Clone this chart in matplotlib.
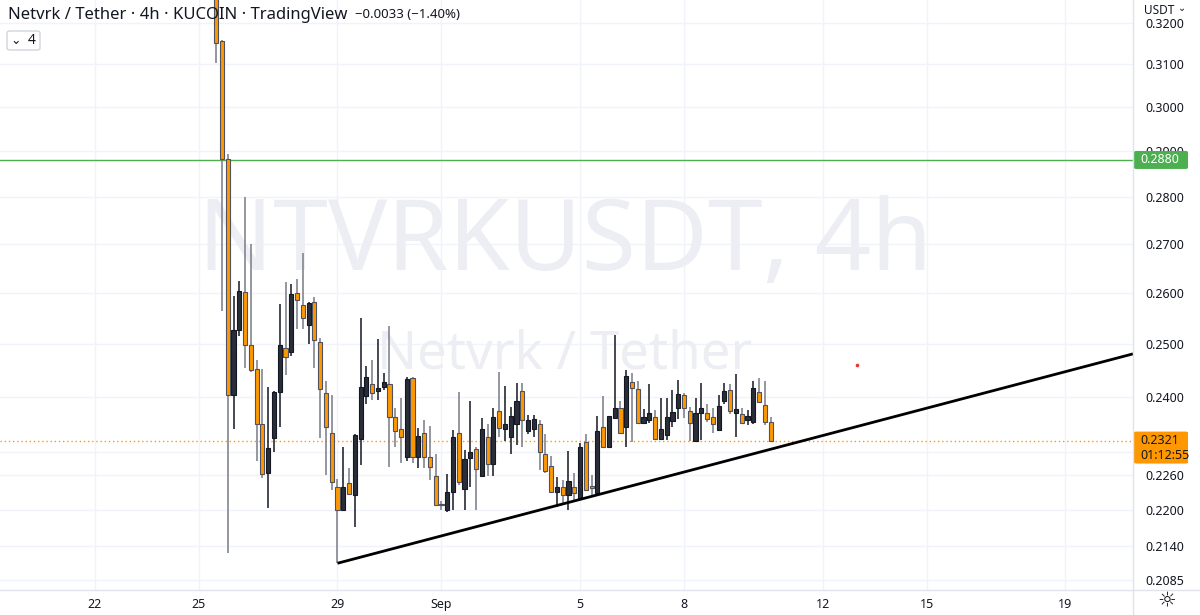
import matplotlib
matplotlib.use('Agg')
import matplotlib.pyplot as plt
import matplotlib.dates as mdates
from matplotlib.patches import FancyBboxPatch
from matplotlib.lines import Line2D
from matplotlib.ticker import FixedLocator, NullLocator, NullFormatter
import numpy as np
import pandas as pd

plt.rcParams['font.family'] = ['Noto Sans', 'DejaVu Sans']

# ---------------- data ----------------
title_main = "Netvrk / Tether · 4h · KUCOIN · TradingView"
change_text = "−0.0033 (−1.40%)"
interval_badge = "4"
watermark_main = "NTVRKUSDT, 4h"
watermark_sub = "Netvrk / Tether"
currency = "USDT"

start_time = "2021-08-25 12:00"   # first visible 4h candle
opens = [0.3400, 0.3156, 0.2882, 0.2404, 0.2526, 0.2601, 0.2498, 0.2452, 0.2351, 0.2263,
         0.2326, 0.2410, 0.2492, 0.2485, 0.2599, 0.2576, 0.2536, 0.2581, 0.2503, 0.2407,
         0.2335, 0.2240, 0.2201, 0.2247, 0.2226, 0.2324, 0.2401, 0.2424, 0.2411, 0.2419,
         0.2424, 0.2363, 0.2341, 0.2291, 0.2435, 0.2291, 0.2335, 0.2291, 0.2259, 0.2210,
         0.2200, 0.2231, 0.2334, 0.2236, 0.2290, 0.2306, 0.2259, 0.2328, 0.2280, 0.2374,
         0.2342, 0.2327, 0.2351, 0.2411, 0.2339, 0.2341, 0.2350, 0.2297, 0.2276, 0.2231,
         0.2240, 0.2226, 0.2239, 0.2219, 0.2319, 0.2241, 0.2229, 0.2345, 0.2310, 0.2361,
         0.2380, 0.2346, 0.2428, 0.2414, 0.2353, 0.2358, 0.2364, 0.2323, 0.2331, 0.2357,
         0.2380, 0.2404, 0.2374, 0.2321, 0.2370, 0.2370, 0.2364, 0.2340, 0.2393, 0.2413,
         0.2370, 0.2369, 0.2358, 0.2354, 0.2410, 0.2385, 0.2354]
highs = [0.3420, 0.3158, 0.2893, 0.2594, 0.2624, 0.2800, 0.2700, 0.2469, 0.2453, 0.2419,
         0.2411, 0.2578, 0.2621, 0.2618, 0.2628, 0.2682, 0.2582, 0.2592, 0.2512, 0.2430,
         0.2404, 0.2253, 0.2309, 0.2272, 0.2333, 0.2550, 0.2458, 0.2469, 0.2509, 0.2445,
         0.2534, 0.2379, 0.2398, 0.2438, 0.2438, 0.2343, 0.2358, 0.2348, 0.2297, 0.2215,
         0.2262, 0.2340, 0.2410, 0.2304, 0.2393, 0.2309, 0.2362, 0.2351, 0.2379, 0.2447,
         0.2421, 0.2382, 0.2426, 0.2426, 0.2367, 0.2367, 0.2358, 0.2333, 0.2294, 0.2256,
         0.2252, 0.2302, 0.2263, 0.2317, 0.2333, 0.2260, 0.2365, 0.2402, 0.2365, 0.2517,
         0.2393, 0.2450, 0.2445, 0.2429, 0.2378, 0.2424, 0.2376, 0.2398, 0.2398, 0.2413,
         0.2432, 0.2408, 0.2381, 0.2398, 0.2426, 0.2387, 0.2379, 0.2404, 0.2426, 0.2424,
         0.2443, 0.2379, 0.2376, 0.2430, 0.2435, 0.2430, 0.2363]
lows = [0.3103, 0.2564, 0.2129, 0.2342, 0.2515, 0.2455, 0.2447, 0.2285, 0.2255, 0.2204,
        0.2300, 0.2345, 0.2441, 0.2476, 0.2529, 0.2529, 0.2500, 0.2454, 0.2326, 0.2260,
        0.2234, 0.2112, 0.2200, 0.2228, 0.2172, 0.2277, 0.2387, 0.2395, 0.2395, 0.2413,
        0.2274, 0.2310, 0.2282, 0.2284, 0.2281, 0.2272, 0.2272, 0.2252, 0.2208, 0.2200,
        0.2197, 0.2200, 0.2243, 0.2200, 0.2240, 0.2200, 0.2259, 0.2259, 0.2259, 0.2328,
        0.2321, 0.2298, 0.2313, 0.2310, 0.2333, 0.2328, 0.2269, 0.2264, 0.2231, 0.2206,
        0.2210, 0.2200, 0.2216, 0.2219, 0.2234, 0.2223, 0.2229, 0.2310, 0.2310, 0.2361,
        0.2334, 0.2310, 0.2318, 0.2351, 0.2351, 0.2353, 0.2322, 0.2322, 0.2322, 0.2346,
        0.2359, 0.2361, 0.2321, 0.2321, 0.2322, 0.2354, 0.2335, 0.2340, 0.2387, 0.2369,
        0.2327, 0.2351, 0.2349, 0.2351, 0.2391, 0.2349, 0.2318]
closes = [0.3151, 0.2882, 0.2404, 0.2526, 0.2604, 0.2498, 0.2451, 0.2351, 0.2262, 0.2308,
          0.2410, 0.2498, 0.2475, 0.2597, 0.2585, 0.2550, 0.2579, 0.2507, 0.2415, 0.2346,
          0.2249, 0.2201, 0.2240, 0.2228, 0.2331, 0.2419, 0.2438, 0.2407, 0.2417, 0.2427,
          0.2363, 0.2338, 0.2327, 0.2434, 0.2291, 0.2330, 0.2292, 0.2275, 0.2208, 0.2208,
          0.2231, 0.2327, 0.2249, 0.2288, 0.2300, 0.2271, 0.2342, 0.2280, 0.2363, 0.2343,
          0.2351, 0.2365, 0.2393, 0.2358, 0.2358, 0.2359, 0.2300, 0.2268, 0.2231, 0.2240,
          0.2226, 0.2250, 0.2229, 0.2310, 0.2234, 0.2237, 0.2339, 0.2310, 0.2365, 0.2380,
          0.2335, 0.2439, 0.2416, 0.2353, 0.2363, 0.2370, 0.2323, 0.2341, 0.2363, 0.2372,
          0.2405, 0.2379, 0.2352, 0.2371, 0.2379, 0.2359, 0.2351, 0.2383, 0.2411, 0.2375,
          0.2378, 0.2353, 0.2365, 0.2417, 0.2391, 0.2354, 0.2321]

price_ticks = [0.3200, 0.3100, 0.3000, 0.2900, 0.2800, 0.2700, 0.2600, 0.2500,
               0.2400, 0.2260, 0.2200, 0.2140, 0.2085]
date_ticks = ["2021-08-22", "2021-08-25", "2021-08-29", "2021-09-01", "2021-09-05",
              "2021-09-08", "2021-09-12", "2021-09-15", "2021-09-19"]
date_labels = ["22", "25", "29", "Sep", "5", "8", "12", "15", "19"]

level_price = 0.2880
last_price = 0.2321
countdown = "01:12:55"

trend_times = ["2021-08-29 00:00", "2021-09-20 23:00"]
trend_prices = [0.2112, 0.2481]

dot_time = "2021-09-12 23:45"
dot_price = 0.2460

x_range = ["2021-08-19 06:15", "2021-09-20 23:00"]
y_range = [0.2069, 0.3257]

# ---------------- colours ----------------
UP_BODY, UP_EDGE, UP_WICK = '#2a2e39', '#131722', '#131722'
DN_BODY, DN_EDGE, DN_WICK = '#ff9800', '#4f525c', '#787b86'
GRID = '#f0f3fa'
TEXT = '#131722'
SEP = '#e0e3eb'
WATERMARK = '#eceef3'

W, H = 1200, 615
fig = plt.figure(figsize=(W / 100, H / 100), dpi=100)
fig.patch.set_facecolor('white')
ax_right_px, ax_bottom_px = 1133, 590
ax = fig.add_axes([0, (H - ax_bottom_px) / H, ax_right_px / W, ax_bottom_px / H])
ax.set_facecolor('white')

t = mdates.date2num(pd.date_range(start_time, periods=len(opens), freq='4h'))
o, h, l, c = (np.array(a) for a in (opens, highs, lows, closes))
up = c > o
bw = 0.72 / 6.0
for mask, body, edge, wick in [(up, UP_BODY, UP_EDGE, UP_WICK), (~up, DN_BODY, DN_EDGE, DN_WICK)]:
    ax.vlines(t[mask], l[mask], h[mask], color=wick, lw=1.1, zorder=3)
    hgt = np.maximum(np.abs(c - o)[mask], 0.00005)
    ax.bar(t[mask], hgt, bottom=np.minimum(o, c)[mask], width=bw, color=body,
           edgecolor=edge, lw=0.8, zorder=4)

ax.set_yscale('log')
ax.set_ylim(*y_range)
ax.set_xlim(*mdates.date2num(pd.to_datetime(x_range)))

# grid
xt = mdates.date2num(pd.to_datetime(date_ticks))
for xv in xt:
    ax.axvline(xv, color=GRID, lw=1, zorder=0)
for yv in price_ticks + [0.2300]:
    ax.axhline(yv, color=GRID, lw=1, zorder=0)

# watermarks
ax.text(0.4987, 0.585, watermark_main, transform=ax.transAxes, ha='center', va='center',
        fontsize=71, color=WATERMARK, zorder=1)
ax.text(0.4987, 0.398, watermark_sub, transform=ax.transAxes, ha='center', va='center',
        fontsize=38, color=WATERMARK, zorder=1)

# level line & last price line
ax.axhline(level_price, color='#4caf50', lw=1, zorder=2)
ax.axhline(last_price, color='#ff9800', lw=1, ls=(0, (1, 2)), zorder=2)

# trendline
ax.plot(mdates.date2num(pd.to_datetime(trend_times)), trend_prices, color='black', lw=2,
        zorder=5, solid_capstyle='butt')
ax.plot(mdates.date2num(pd.to_datetime([dot_time]))[0], dot_price, 'o', color='#e53935',
        ms=1.6, zorder=5)

# axes formatting
for s in ax.spines.values():
    s.set_visible(False)
ax.yaxis.set_major_locator(FixedLocator(price_ticks))
ax.yaxis.set_minor_locator(NullLocator())
ax.yaxis.set_minor_formatter(NullFormatter())
ax.set_yticklabels([f"{p:.4f}" for p in price_ticks])
ax.yaxis.tick_right()
ax.tick_params(axis='y', length=0, pad=9, labelsize=9, labelcolor=TEXT)
ax.set_xticks(xt)
ax.set_xticklabels(date_labels)
ax.tick_params(axis='x', length=0, pad=6, labelsize=9, labelcolor=TEXT)
for lbl in ax.get_xticklabels():
    if lbl.get_text() == "Sep":
        lbl.set_fontweight('bold')

# separators
fig.add_artist(Line2D([ax_right_px / W] * 2, [0, 1], color=SEP, lw=1))
fig.add_artist(Line2D([0, 1], [(H - ax_bottom_px) / H] * 2, color=SEP, lw=1))

def fy(px):
    return 1 - px / H

def fx(px):
    return px / W

# header
fig.text(fx(8), fy(15), title_main, fontsize=12, color=TEXT, va='center', ha='left')
fig.text(fx(355), fy(15), change_text, fontsize=9.5, color=TEXT, va='center', ha='left')
fig.add_artist(FancyBboxPatch((fx(7), fy(50)), fx(33), 19 / H,
                              boxstyle='round,pad=0,rounding_size=0.003',
                              fc='white', ec='#d1d4dc', lw=1))
fig.text(fx(16), fy(40), "⌄", fontsize=9, color=TEXT, va='center', ha='center',
         family=['DejaVu Sans'])
fig.text(fx(28), fy(40), interval_badge, fontsize=10, color=TEXT, va='center', ha='left')

# currency label
fig.text(fx(1144), fy(10), currency, fontsize=8.5, color=TEXT, va='center', ha='left')
fig.text(fx(1182), fy(8), "⌄", fontsize=7, color=TEXT, va='center', ha='center',
         family=['DejaVu Sans'])

# price labels
def ytofig(p):
    disp = ax.transData.transform((ax.get_xlim()[0], p))
    return fig.transFigure.inverted().transform(disp)[1]

yl = ytofig(level_price)
fig.add_artist(FancyBboxPatch((fx(1134), yl - 9 / H), fx(54), 18 / H,
                              boxstyle='round,pad=0,rounding_size=0.002',
                              fc='#4caf50', ec='none'))
fig.text(fx(1140), yl, f"{level_price:.4f}", fontsize=9, color='white', va='center', ha='left')

yp = ytofig(last_price)
fig.add_artist(FancyBboxPatch((fx(1134), yp - 23 / H), fx(54), 32 / H,
                              boxstyle='round,pad=0,rounding_size=0.002',
                              fc='#ff9800', ec='none'))
fig.text(fx(1140), yp, f"{last_price:.4f}", fontsize=9, color=TEXT, va='center', ha='left')
fig.text(fx(1140), yp - 15 / H, countdown, fontsize=9, color=TEXT, va='center', ha='left')

# settings icon
fig.text(fx(1167), fy(600), "☼", fontsize=15, color=TEXT, va='center', ha='center',
         family=['DejaVu Sans'])

fig.savefig('out.png', dpi=100, facecolor='white')
